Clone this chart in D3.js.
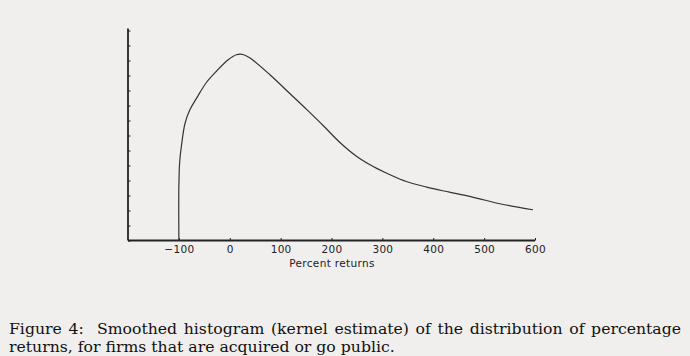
<!DOCTYPE html>
<html><head><meta charset="utf-8">
<script src="https://cdn.jsdelivr.net/npm/d3@7"></script>
<style>
html,body{margin:0;padding:0;background:#f0efed;}
svg{display:block;}
</style></head>
<body>
<svg id="chart" width="690" height="356"></svg>
<script>
// Data
const returnsX = [-100,-100,-98.5,-95,-88,-78.4,-65.2,-45.6,-25.9,-3,13,26,40,79,118,151,184,216,249,282,315,347,387,432,485,531,596];
const densityY = [0,3.6,5.2,6.3,7.8,8.71,9.49,10.55,11.3,12.05,12.38,12.4,12.16,11.05,9.8,8.74,7.65,6.55,5.62,4.93,4.38,3.93,3.56,3.22,2.83,2.45,2.05];
const xTicks = [-100,0,100,200,300,400,500,600];
const yTicks = [0,1,2,3,4,5,6,7,8,9,10,11,12,13,14];
const xLabel = "Percent returns";
const captionLines = [
  "Figure 4:  Smoothed histogram (kernel estimate) of the distribution of percentage",
  "returns, for firms that are acquired or go public."
];

const svg = d3.select("#chart");
const x = d3.scaleLinear().domain([-200,600]).range([128,535]);
const y = d3.scaleLinear().domain([0,14]).range([240.5,30.5]);
const ink = "#222";

// x axis
const xAxis = d3.axisBottom(x).tickValues(xTicks).tickSize(-2.5).tickPadding(6)
  .tickFormat(d => d < 0 ? "\u2212" + Math.abs(d) : String(d));
const gx = svg.append("g").attr("transform", `translate(0,${y(0)})`).call(xAxis);
gx.select(".domain").attr("d", `M${x(-200)},0H${x(600)}`).attr("stroke", ink).attr("stroke-width", 1.8);
gx.selectAll(".tick line").attr("stroke", ink).attr("stroke-width", 1);
gx.selectAll(".tick text").attr("font-family", "DejaVu Sans").attr("font-size", 10.5)
  .attr("fill", ink).attr("dy", "0.6em").attr("letter-spacing", 0.3);

// y axis (unlabeled ticks)
const yAxis = d3.axisLeft(y).tickValues(yTicks).tickSize(-2.5).tickFormat("");
const gy = svg.append("g").attr("transform", `translate(${x(-200)},0)`).call(yAxis);
gy.select(".domain").attr("d", `M0,${y(0)}V${y(14)-2}`).attr("stroke", ink).attr("stroke-width", 1.8);
gy.selectAll(".tick line").attr("stroke", ink).attr("stroke-width", 1);

// x label
svg.append("text").attr("x", 332).attr("y", 267).attr("text-anchor", "middle")
  .attr("font-family", "DejaVu Sans").attr("font-size", 10.5).attr("letter-spacing", 0.35)
  .attr("fill", ink).text(xLabel);

// curve
const pts = returnsX.map((v,i) => [v, densityY[i]]);
const line = d3.line().x(d => x(d[0])).y(d => y(d[1])).curve(d3.curveCatmullRom.alpha(0.5));
svg.append("path").datum(pts).attr("d", line).attr("fill", "none")
  .attr("stroke", "#333").attr("stroke-width", 1.2);

// caption
const cap = svg.append("g").attr("font-family", "DejaVu Serif").attr("fill", "#111");
const l2 = cap.append("text").attr("x", 9).attr("y", 351.5).attr("font-size", 16).text(captionLines[1]);
const fs = 16 * 386 / l2.node().getComputedTextLength();
l2.attr("font-size", fs);
const l1 = cap.append("text").attr("x", 9).attr("y", 334).attr("font-size", fs)
  .attr("xml:space","preserve").text(captionLines[0]);
const w1 = l1.node().getComputedTextLength();
const nSp = (captionLines[0].match(/ /g) || []).length;
l1.attr("word-spacing", (672 - w1) / nSp);
</script>
</body></html>
